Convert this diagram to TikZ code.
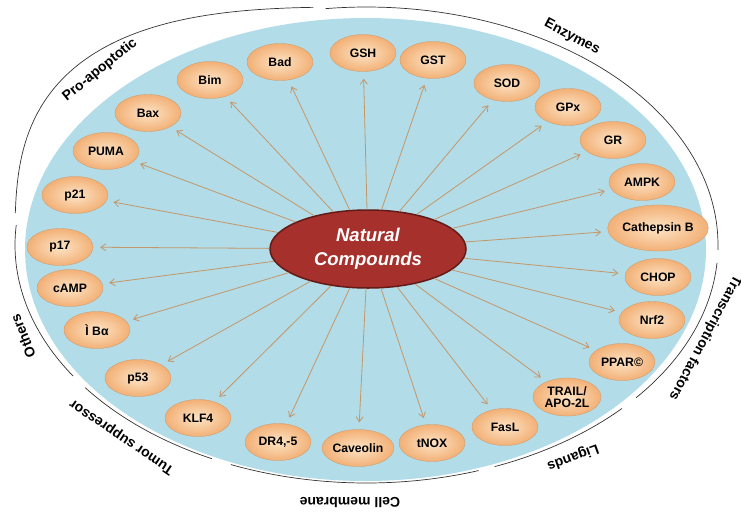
\documentclass[tikz,border=0pt]{standalone}
\usepackage{fontspec}
\setmainfont{Liberation Sans}
\usetikzlibrary{shapes.geometric,arrows.meta}
\definecolor{skyfill}{RGB}{178,220,232}
\definecolor{peachin}{RGB}{253,228,198}
\definecolor{peachout}{RGB}{242,176,118}
\definecolor{wine}{RGB}{165,48,44}
\definecolor{winedark}{RGB}{100,26,22}
\definecolor{arrowtan}{RGB}{196,150,104}
\begin{document}
\begin{tikzpicture}[x=1pt,y=-1pt,
    target/.style={ellipse,inner sep=0pt,minimum width=66pt,minimum height=37pt,
      inner color=peachin,outer color=peachout,draw=peachout!85!black,line width=0.3pt,
      font=\bfseries\fontsize{12.2}{13}\selectfont,align=center},
    group/.style={font=\bfseries\fontsize{14}{16}\selectfont},
    arr/.style={draw=arrowtan,line width=0.8pt,-{Straight Barb[length=5pt,width=7pt]},shorten >=7pt},
    rim/.style={line width=0.7pt,black!80}]
    \def\seg#1#2#3{\draw[rim] plot[domain=#1:#2,samples=60,smooth]
      ({366.5+351.5*cos(\x)*(abs(cos(\x))+0.0001)^(#3-1)},{245+238*sin(\x)*(abs(sin(\x))+0.0001)^(#3-1)});}
    \useasboundingbox (0,0) rectangle (741,515);
    \fill[skyfill] (365.5,249.5) ellipse [x radius=340.5,y radius=231.5];
    \seg{183}{266.4}{0.68}
    \seg{263.3}{361.2}{1}
    \seg{4.3}{39.9}{1}
    \seg{43.4}{68.6}{1}
    \seg{71.4}{112.7}{1}
    \seg{116.1}{143.2}{1}
    \seg{146.6}{184.8}{1}
    \node[group,rotate=39] (proapo) at (100,70) {Pro-apoptotic};
    \node[group,rotate=-28] (enz) at (572,37) {Enzymes};
    \node[group,rotate=-118] (trf) at (705,338) {Transcription factors};
    \node[group,rotate=200] (lig) at (573,457) {Ligands};
    \node[group,rotate=180] (cmem) at (350,502) {Cell membrane};
    \node[group,rotate=146] (tsup) at (122,437) {Tumor suppressor};
    \node[group,rotate=112] (oth) at (23,336) {Others};
    \foreach \n/\px/\py/\lab in {bad/280/62/Bad,bim/210/80/Bim,bax/148/113/Bax,puma/106/151/PUMA,
        p21/75/195/p21,p17/60/247/p17,camp/70/288/cAMP,ikb/97/330/Ì Bα,p53/138/378/p53,
        klf/198/418/KLF4,dr/278/442/{DR4,-5},cav/358/448/Caveolin,tnox/432/443/tNOX,
        fasl/505/427/FasL,ppar/622/362/PPAR©,nrf/652/320/Nrf2,chop/658/277/CHOP,
        ampk/642/182/AMPK,gr/613/140/GR,gpx/568/107/GPx,sod/507/83/SOD,gst/433/60/GST,gsh/363/53/GSH}
      \node[target] (\n) at (\px,\py) {\lab};
    \node[target,minimum width=82pt,minimum height=46pt] (cath) at (658,228) {Cathepsin B};
    \node[target,minimum width=68pt,minimum height=38pt,font=\bfseries\fontsize{12.2}{12.5}\selectfont] (trail) at (567,397) {TRAIL/\\APO-2L};
    \node[ellipse,minimum width=196pt,minimum height=78pt,inner sep=0pt,fill=wine,draw=winedark,line width=1.5pt,
      text=white,font=\bfseries\itshape\fontsize{18.5}{24}\selectfont,align=center] (nc) at (368,249) {Natural\\Compounds};
    \foreach \n in {bad,bim,bax,puma,p21,p17,camp,ikb,p53,klf,dr,cav,tnox,fasl,trail,ppar,nrf,chop,cath,ampk,gr,gpx,sod,gst,gsh}
      \draw[arr] (nc) -- (\n);
\end{tikzpicture}
\end{document}
